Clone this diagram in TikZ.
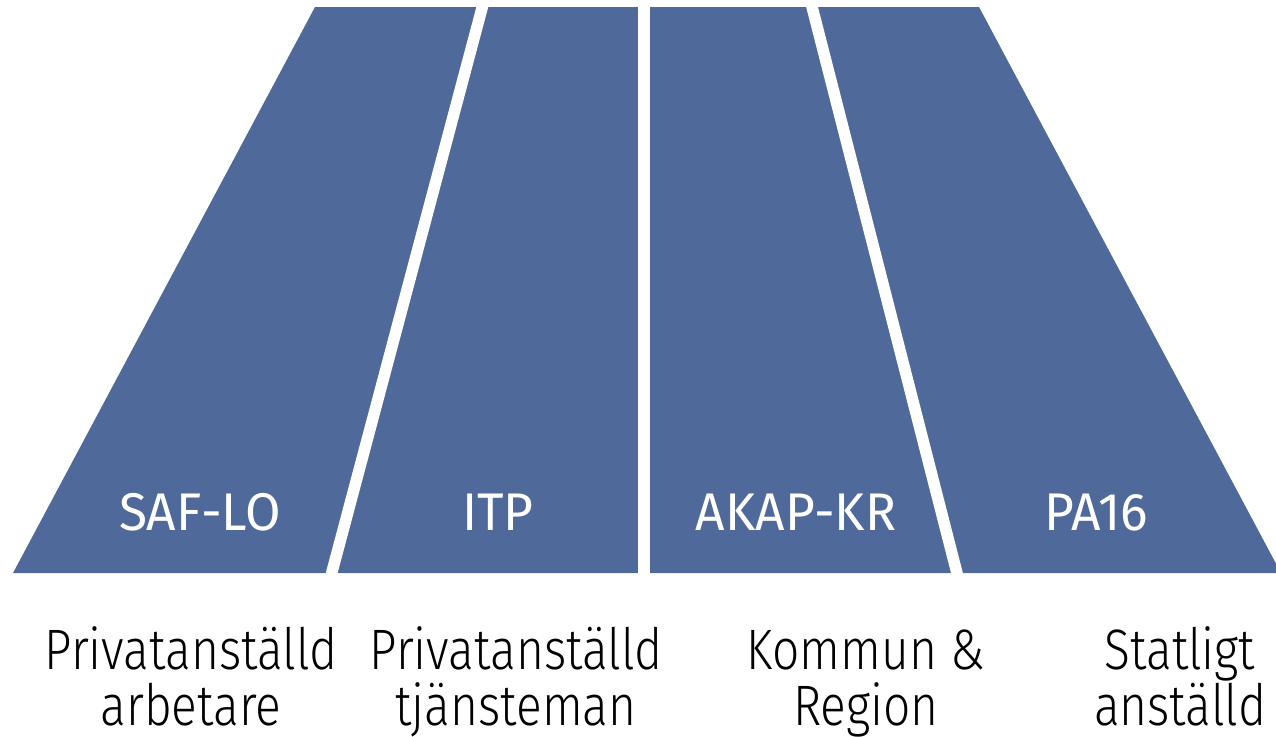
\documentclass[tikz,border=0pt]{standalone}
\usepackage{fontspec}
\setmainfont{Fira Sans}[FakeStretch=0.97]
\newfontfamily\lightfont{Fira Sans Light}[FakeStretch=0.84]
\definecolor{segblue}{RGB}{79,106,154}
\tikzset{
  seglabel/.style={text=white, font=\fontsize{53}{60}\selectfont, anchor=base, inner sep=0pt},
  caption/.style={text=black, font=\lightfont\fontsize{57}{57}\selectfont, align=center, anchor=base, inner sep=0pt},
  gapline/.style={white, line width=11.5pt}
}
\begin{document}
\begin{tikzpicture}[x=1pt,y=-1pt]
\useasboundingbox (0,0) rectangle (1276,736);
\begin{scope}
\clip (0,0) rectangle (1276,736);
\fill[segblue] (315,7) coordinate (tl) -- (979,7) coordinate (tr) -- (1281,573) coordinate (br) -- (13,573) coordinate (bl) -- cycle;
\coordinate (g1t) at (485.5,-5); \coordinate (g1b) at (328.5,585);
\coordinate (g2t) at (644,-5); \coordinate (g2b) at (644,585);
\coordinate (g3t) at (809,-5); \coordinate (g3b) at (960,585);
\draw[gapline] (g1t) -- (g1b);
\draw[gapline] (g2t) -- (g2b);
\draw[gapline] (g3t) -- (g3b);
\end{scope}
\node[seglabel] (saf) at (200,530) {SAF-LO};
\node[seglabel] (itp) at (498,530) {ITP};
\node[seglabel] (akap) at (796,530) {AKAP-KR};
\node[seglabel] (pa) at (1096,530) {PA16};
\node[caption] (c1a) at (191,669) {Privatanställd};
\node[caption] (c1b) at (191,725) {arbetare};
\node[caption] (c2a) at (516,669) {Privatanställd};
\node[caption] (c2b) at (516,725) {tjänsteman};
\node[caption] (c3a) at (866,669) {Kommun \&};
\node[caption] (c3b) at (866,725) {Region};
\node[caption] (c4a) at (1180,669) {Statligt};
\node[caption] (c4b) at (1180,725) {anställd};
\end{tikzpicture}
\end{document}
